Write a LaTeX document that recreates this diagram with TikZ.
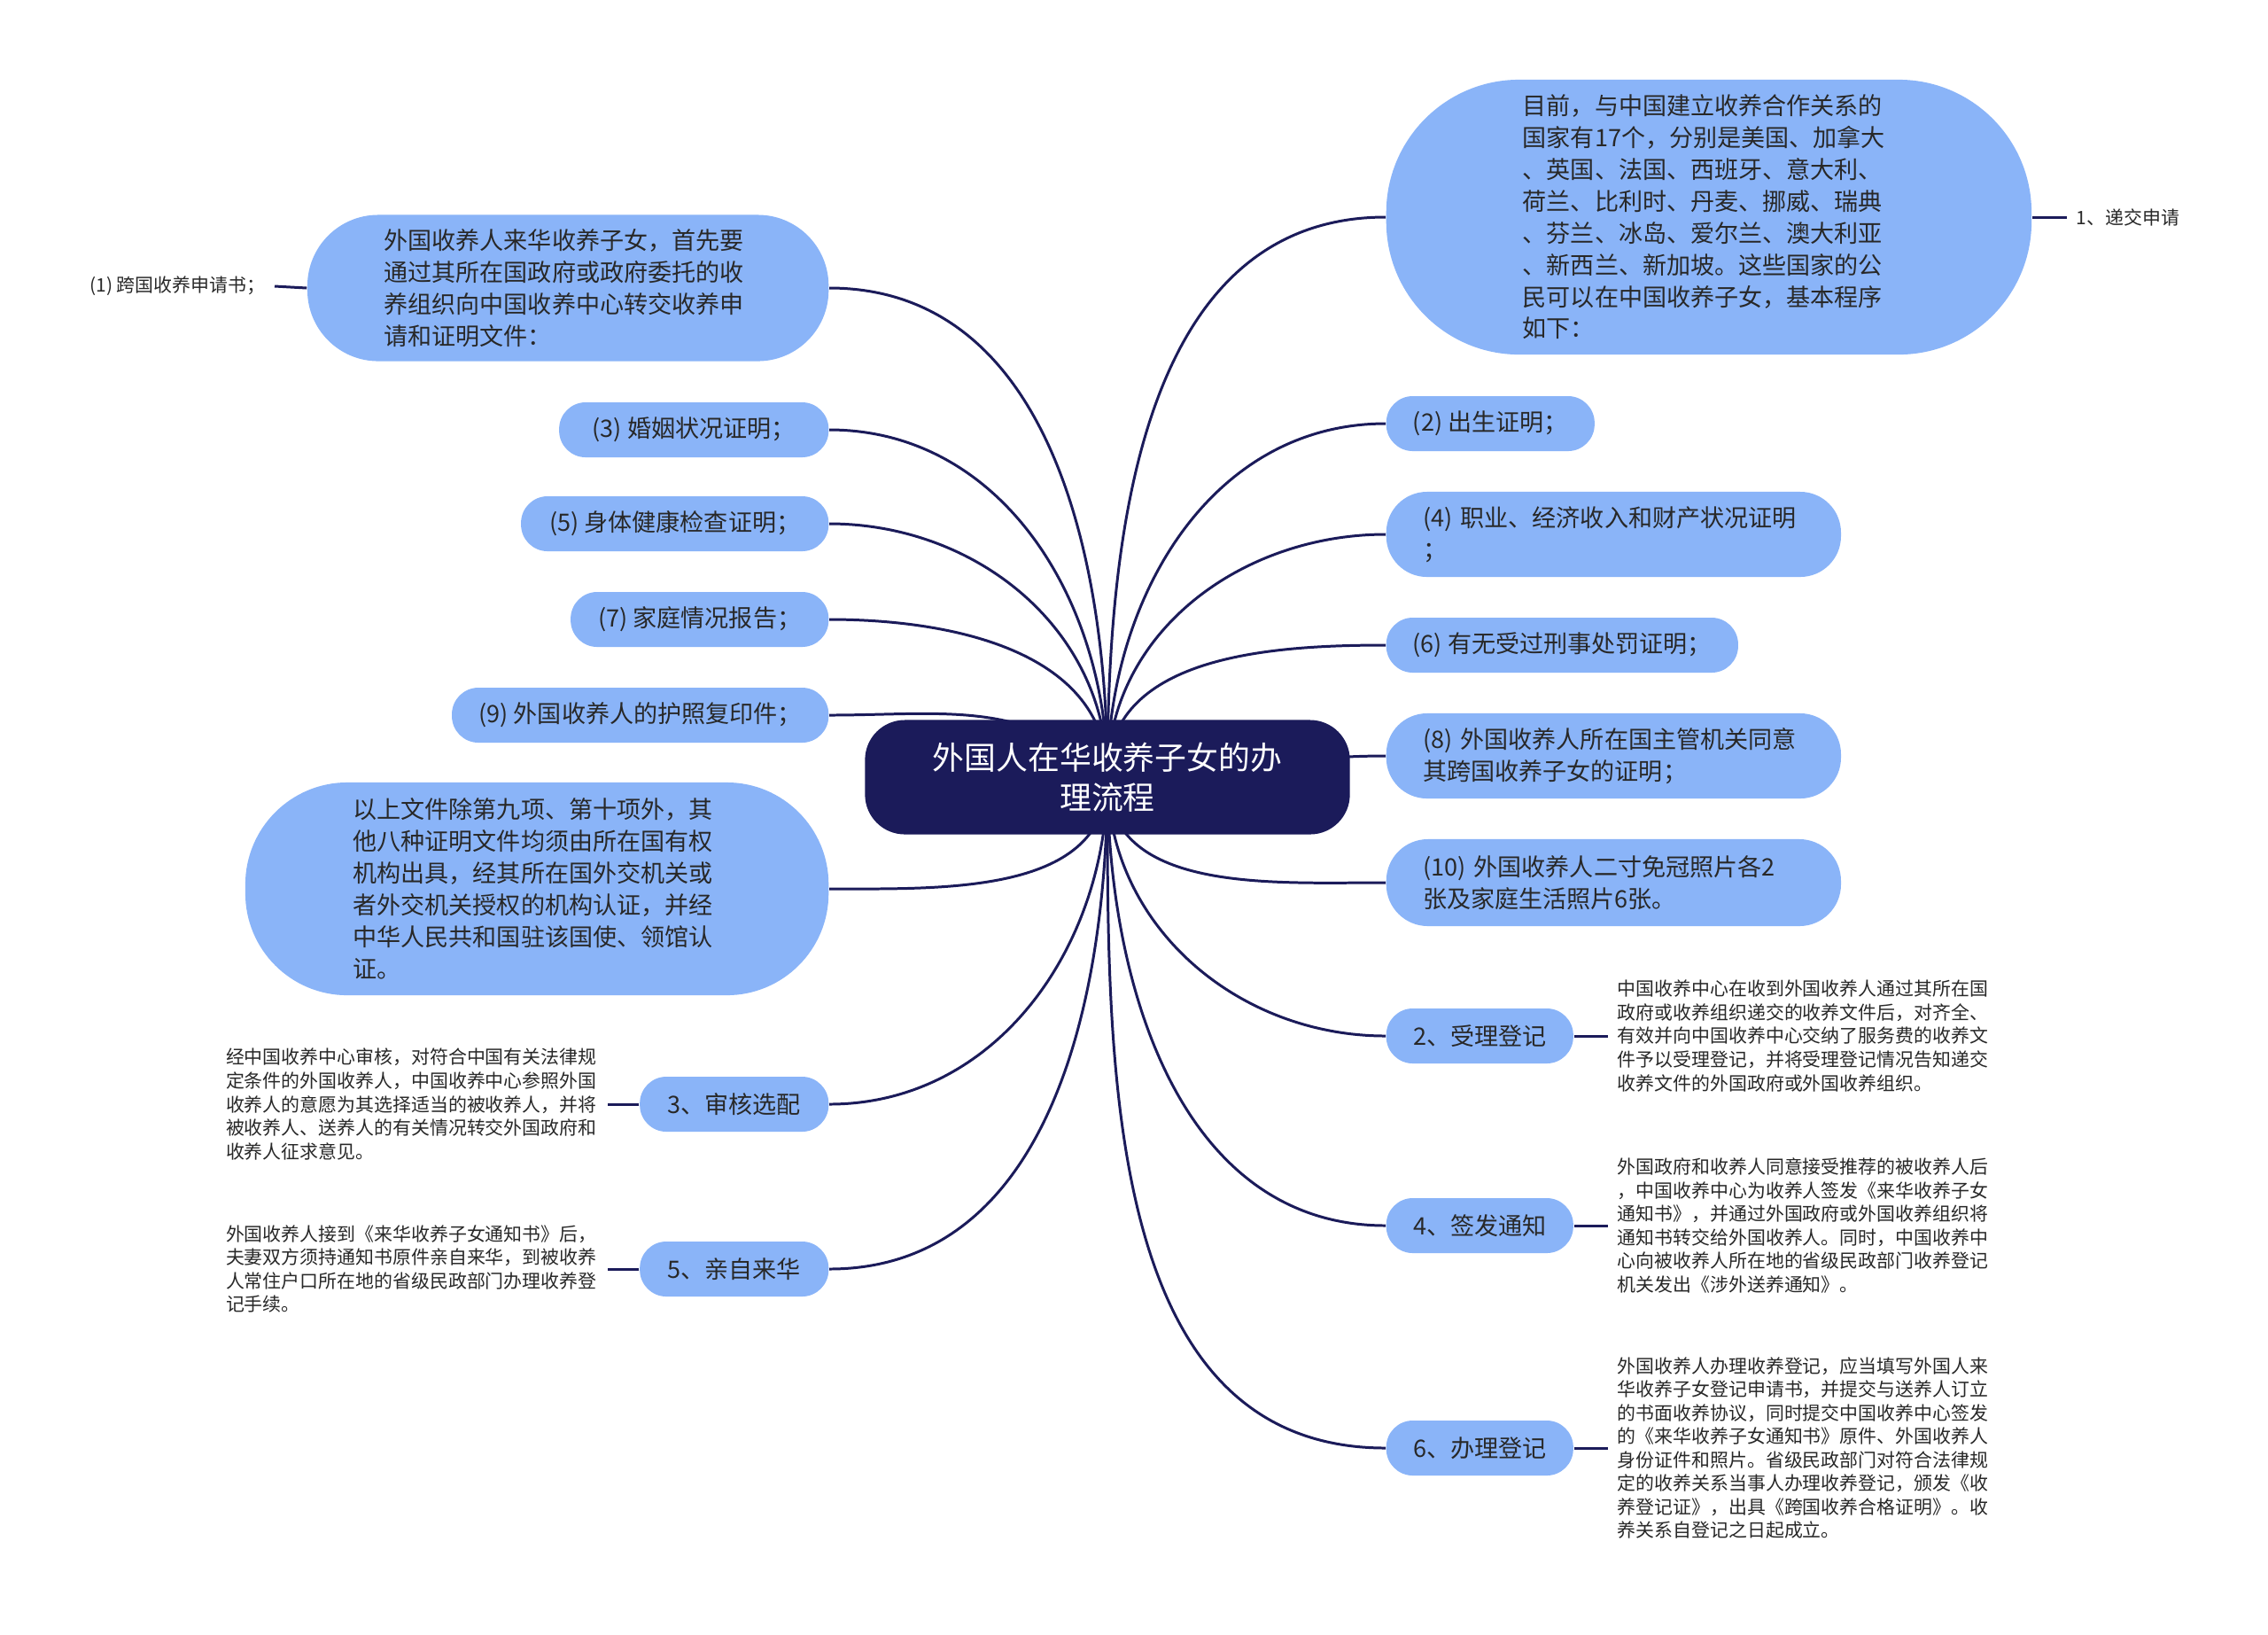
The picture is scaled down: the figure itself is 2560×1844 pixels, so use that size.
\documentclass[tikz,border=0pt]{standalone}
\usepackage{fontspec}
\setmainfont{Noto Sans CJK SC}
\usetikzlibrary{backgrounds}
\definecolor{navy}{RGB}{27,27,90}
\definecolor{pillblue}{RGB}{138,180,248}
\definecolor{ink}{RGB}{40,40,40}
\tikzset{
  pill/.style={shape=rectangle, rounded corners=0.3cm, fill=pillblue, text=ink, align=center,
    minimum height=0.62cm, inner xsep=0pt, font=\fontsize{7.7}{10.2}\selectfont},
  bigpill/.style={pill, align=left},
  note/.style={text=ink, align=left, text width=4.2cm, inner xsep=0.1cm, font=\fontsize{5.95}{7.55}\selectfont},
  tag/.style={text=ink, inner xsep=0.1cm, font=\fontsize{5.95}{7.55}\selectfont},
  link/.style={draw=navy, line width=0.85pt},
}
\begin{document}
\begin{tikzpicture}[x=0.01cm, y=-0.01cm]
	\useasboundingbox (0,0) rectangle (2560,1844);

	\node (z0)[pill, fill=navy, text=white, minimum width=5.47cm, minimum height=1.29cm, rounded corners=0.45cm,
		font=\fontsize{10.2}{13}\selectfont] at (1250,877) {
		外国人在华收养子女的办\\理流程
	};

	% right side
	\node (z1)[bigpill, anchor=west, minimum width=7.28cm, minimum height=3.1cm, rounded corners=1.5cm, text width=4.2cm]
	at (1564,245) {
		目前，与中国建立收养合作关系的\\
		国家有17个，分别是美国、加拿大\\
		、英国、法国、西班牙、意大利、\\
		荷兰、比利时、丹麦、挪威、瑞典\\
		、芬兰、冰岛、爱尔兰、澳大利亚\\
		、新西兰、新加坡。这些国家的公\\
		民可以在中国收养子女，基本程序\\
		如下：
	};
	\node (z2)[pill, anchor=west, minimum width=2.35cm] at (1564,478) {(2) 出生证明；};
	\node (z3)[bigpill, anchor=west, minimum width=5.13cm, minimum height=0.96cm, rounded corners=0.46cm, text width=4.3cm]
	at (1564,603) {
		(4)~职业、经济收入和财产状况证明\\；
	};
	\node (z4)[pill, anchor=west, minimum width=3.97cm] at (1564,728) {(6) 有无受过刑事处罚证明；};
	\node (z5)[bigpill, anchor=west, minimum width=5.13cm, minimum height=0.96cm, rounded corners=0.46cm, text width=4.3cm]
	at (1564,853) {
		(8)~外国收养人所在国主管机关同意\\其跨国收养子女的证明；
	};
	\node (z6)[bigpill, anchor=west, minimum width=5.13cm, minimum height=0.98cm, rounded corners=0.47cm, text width=4.3cm]
	at (1564,996) {
		(10)~外国收养人二寸免冠照片各2\\张及家庭生活照片6张。
	};
	\node (z7)[pill, anchor=west, minimum width=2.11cm] at (1564,1169) {2、受理登记};
	\node (z8)[pill, anchor=west, minimum width=2.11cm] at (1564,1383) {4、签发通知};
	\node (z9)[pill, anchor=west, minimum width=2.11cm] at (1564,1634) {6、办理登记};

	% left side
	\node (z10)[bigpill, anchor=east, minimum width=5.88cm, minimum height=1.65cm, rounded corners=0.8cm, text width=4.15cm]
	at (936,325) {
		外国收养人来华收养子女，首先要\\
		通过其所在国政府或政府委托的收\\
		养组织向中国收养中心转交收养申\\
		请和证明文件：
	};
	\node (z11)[pill, anchor=east, minimum width=3.04cm] at (936,485) {(3) 婚姻状况证明；};
	\node (z12)[pill, anchor=east, minimum width=3.47cm] at (936,591) {(5) 身体健康检查证明；};
	\node (z13)[pill, anchor=east, minimum width=2.91cm] at (936,699) {(7) 家庭情况报告；};
	\node (z14)[pill, anchor=east, minimum width=4.25cm] at (936,807) {(9) 外国收养人的护照复印件；};
	\node (z15)[bigpill, anchor=east, minimum width=6.58cm, minimum height=2.4cm, rounded corners=1.15cm, text width=4.15cm]
	at (936,1003) {
		以上文件除第九项、第十项外，其\\
		他八种证明文件均须由所在国有权\\
		机构出具，经其所在国外交机关或\\
		者外交机关授权的机构认证，并经\\
		中华人民共和国驻该国使、领馆认\\
		证。
	};
	\node (z16)[pill, anchor=east, minimum width=2.13cm] at (936,1246) {3、审核选配};
	\node (z17)[pill, anchor=east, minimum width=2.13cm] at (936,1432) {5、亲自来华};

	% leaves
	\node (z18)[tag, anchor=west] at (2333,245) {1、递交申请};
	\node (z19)[tag, anchor=east] at (310,323) {(1) 跨国收养申请书；};
	\node (z20)[note, anchor=west] at (1815,1169) {
		中国收养中心在收到外国收养人通过其所在国\\
		政府或收养组织递交的收养文件后，对齐全、\\
		有效并向中国收养中心交纳了服务费的收养文\\
		件予以受理登记，并将受理登记情况告知递交\\
		收养文件的外国政府或外国收养组织。
	};
	\node (z21)[note, anchor=west] at (1815,1383) {
		外国政府和收养人同意接受推荐的被收养人后\\
		，中国收养中心为收养人签发《来华收养子女\\
		通知书》，并通过外国政府或外国收养组织将\\
		通知书转交给外国收养人。同时，中国收养中\\
		心向被收养人所在地的省级民政部门收养登记\\
		机关发出《涉外送养通知》。
	};
	\node (z22)[note, anchor=west] at (1815,1634) {
		外国收养人办理收养登记，应当填写外国人来\\
		华收养子女登记申请书，并提交与送养人订立\\
		的书面收养协议，同时提交中国收养中心签发\\
		的《来华收养子女通知书》原件、外国收养人\\
		身份证件和照片。省级民政部门对符合法律规\\
		定的收养关系当事人办理收养登记，颁发《收\\
		养登记证》，出具《跨国收养合格证明》。收\\
		养关系自登记之日起成立。
	};
	\node (z23)[note, anchor=east] at (686,1246) {
		经中国收养中心审核，对符合中国有关法律规\\
		定条件的外国收养人，中国收养中心参照外国\\
		收养人的意愿为其选择适当的被收养人，并将\\
		被收养人、送养人的有关情况转交外国政府和\\
		收养人征求意见。
	};
	\node (z24)[note, anchor=east] at (686,1432) {
		外国收养人接到《来华收养子女通知书》后，\\
		夫妻双方须持通知书原件亲自来华，到被收养\\
		人常住户口所在地的省级民政部门办理收养登\\
		记手续。
	};

	\begin{scope}[on background layer]
		\fill[white] (0,0) rectangle (2560,1844);
		\path[link] (z0.center) edge[out=90, in=180] (z1.west);
		\path[link] (z0.center) edge[out=90, in=180] (z2.west);
		\path[link] (z0.center) edge[out=90, in=180] (z3.west);
		\path[link] (z0.center) edge[out=90, in=180] (z4.west);
		\path[link] (z0.center) edge[out=0, in=180] (z5.west);
		\path[link] (z0.center) edge[out=-90, in=180] (z6.west);
		\path[link] (z0.center) edge[out=-90, in=180] (z7.west);
		\path[link] (z0.center) edge[out=-90, in=180] (z8.west);
		\path[link] (z0.center) edge[out=-90, in=180] (z9.west);
		\path[link] (z0.center) edge[out=90, in=0] (z10.east);
		\path[link] (z0.center) edge[out=90, in=0] (z11.east);
		\path[link] (z0.center) edge[out=90, in=0] (z12.east);
		\path[link] (z0.center) edge[out=90, in=0] (z13.east);
		\path[link] (z0.center) edge[out=135, in=0] (z14.east);
		\path[link] (z0.center) edge[out=-90, in=0] (z15.east);
		\path[link] (z0.center) edge[out=-90, in=0] (z16.east);
		\path[link] (z0.center) edge[out=-90, in=0] (z17.east);
		\path[link] (z1.east) edge (z18.west);
		\path[link] (z10.west) edge (z19.east);
		\path[link] (z7.east) edge (z20.west);
		\path[link] (z8.east) edge (z21.west);
		\path[link] (z9.east) edge (z22.west);
		\path[link] (z16.west) edge (z23.east);
		\path[link] (z17.west) edge (z24.east);
	\end{scope}
\end{tikzpicture}
\end{document}
